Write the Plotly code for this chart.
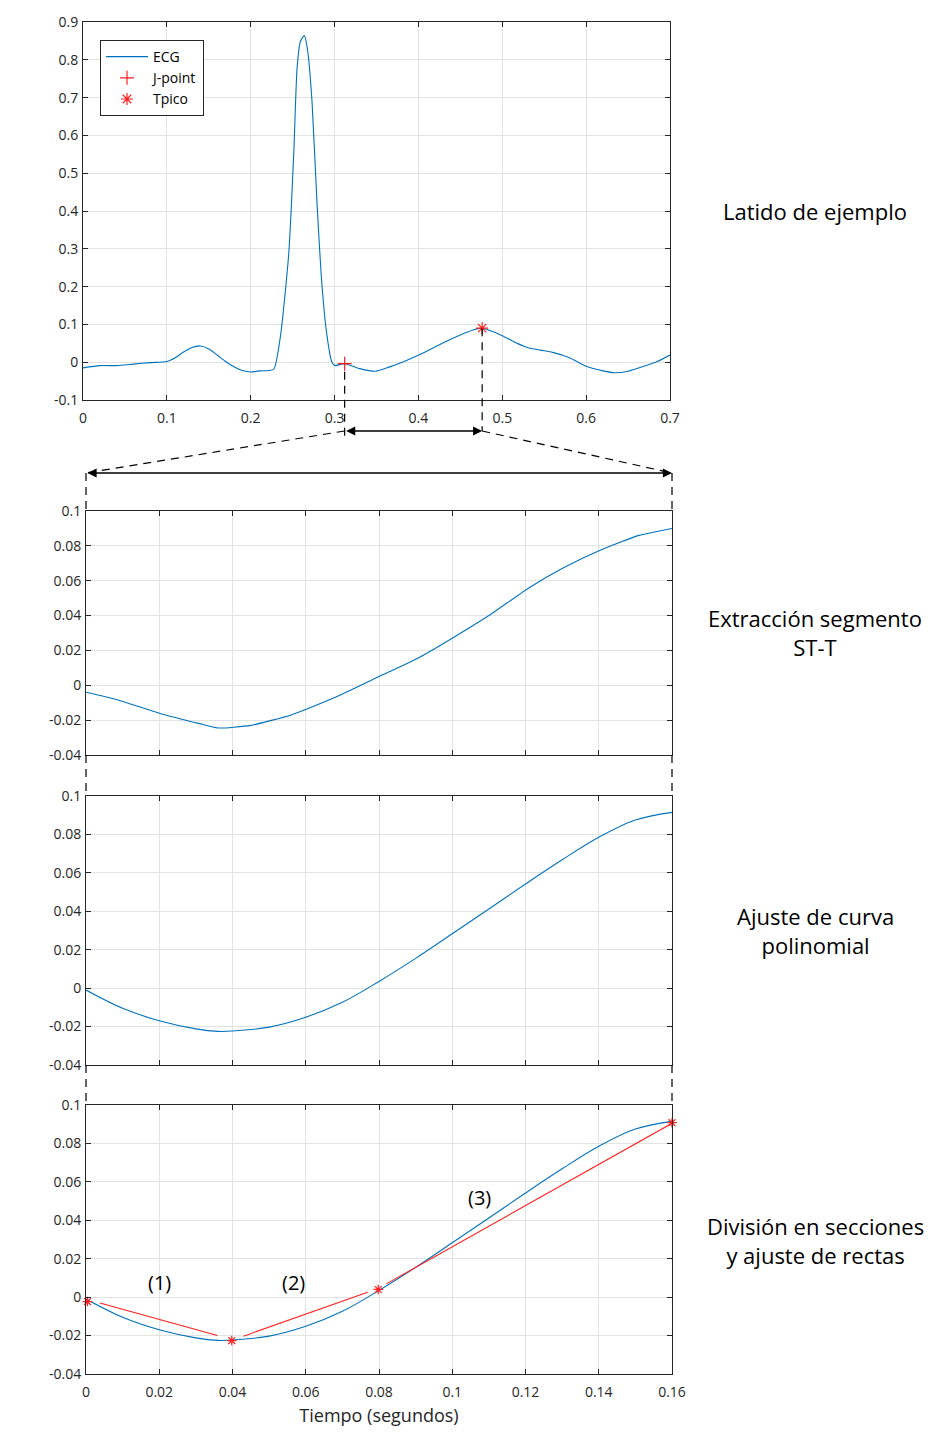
import plotly.graph_objects as go

# ---------------- data ----------------
ecg_t = [0, 0.02, 0.04, 0.06, 0.08, 0.1, 0.11, 0.12, 0.13, 0.14, 0.15, 0.16, 0.17, 0.18,
         0.19, 0.2, 0.21, 0.2217, 0.2277, 0.2356, 0.2455, 0.2514, 0.2553, 0.2593, 0.264,
         0.268, 0.2731, 0.279, 0.285, 0.2909, 0.2968, 0.3008, 0.3047, 0.312, 0.33, 0.349,
         0.365, 0.385, 0.41, 0.431, 0.45, 0.465, 0.476, 0.49, 0.5, 0.515, 0.53, 0.545,
         0.56, 0.58, 0.6, 0.62, 0.634, 0.65, 0.67, 0.685, 0.7]
ecg_v = [-0.015, -0.009, -0.009, -0.005, -0.001, 0.002, 0.012, 0.027, 0.039, 0.043, 0.035,
         0.019, 0.002, -0.012, -0.022, -0.026, -0.023, -0.022, -0.018, 0.071, 0.292, 0.557,
         0.778, 0.849, 0.864, 0.822, 0.69, 0.424, 0.203, 0.071, 0.0, -0.009, -0.007, -0.004,
         -0.017, -0.024, -0.013, 0.004, 0.029, 0.053, 0.072, 0.085, 0.09, 0.08, 0.07, 0.053,
         0.039, 0.032, 0.026, 0.012, -0.011, -0.023, -0.028, -0.024, -0.01, 0.002, 0.019]

jpoint_t, jpoint_v = 0.312, -0.004
tpeak_t, tpeak_v = 0.476, 0.09

st_t = [0, 0.008, 0.02, 0.031, 0.036, 0.045, 0.056, 0.061, 0.069, 0.08, 0.091, 0.1,
        0.11, 0.121, 0.13, 0.141, 0.151, 0.16]
st_v = [-0.004, -0.008, -0.016, -0.022, -0.0245, -0.023, -0.017, -0.013, -0.006, 0.005,
        0.016, 0.027, 0.04, 0.056, 0.067, 0.078, 0.086, 0.09]

poly_t = [0, 0.01, 0.02, 0.03, 0.036, 0.04, 0.05, 0.06, 0.07, 0.08, 0.09, 0.1, 0.11,
          0.12, 0.13, 0.14, 0.15, 0.16]
poly_v = [-0.001, -0.0105, -0.017, -0.0212, -0.0225, -0.0223, -0.0203, -0.0152, -0.0074,
          0.0035, 0.0155, 0.0283, 0.0412, 0.0542, 0.0668, 0.0785, 0.0875, 0.0915]

knots_t = [0.0004, 0.0398, 0.0798, 0.16]
knots_v = [-0.0023, -0.0226, 0.004, 0.0908]

seg_t = [[0.0038, 0.0359], [0.043, 0.0769], [0.082, 0.16]]
seg_v = [[-0.003, -0.020], [-0.0203, 0.0026], [0.0069, 0.0905]]

seg_labels = ["(1)", "(2)", "(3)"]
seg_label_t = [0.02, 0.0566, 0.1075]
seg_label_v = [0.0078, 0.0078, 0.052]

top_xticks = [0, 0.1, 0.2, 0.3, 0.4, 0.5, 0.6, 0.7]
top_xticktext = ["0", "0.1", "0.2", "0.3", "0.4", "0.5", "0.6", "0.7"]
top_yticks = [-0.1, 0, 0.1, 0.2, 0.3, 0.4, 0.5, 0.6, 0.7, 0.8, 0.9]
top_yticktext = ["-0.1", "0", "0.1", "0.2", "0.3", "0.4", "0.5", "0.6", "0.7", "0.8", "0.9"]
zoom_xticks = [0, 0.02, 0.04, 0.06, 0.08, 0.1, 0.12, 0.14, 0.16]
zoom_xticktext = ["0", "0.02", "0.04", "0.06", "0.08", "0.1", "0.12", "0.14", "0.16"]
zoom_yticks = [-0.04, -0.02, 0, 0.02, 0.04, 0.06, 0.08, 0.1]
zoom_yticktext = ["-0.04", "-0.02", "0", "0.02", "0.04", "0.06", "0.08", "0.1"]

panel_titles = ["Latido de ejemplo", "Extracción segmento<br>ST-T",
                "Ajuste de curva<br>polinomial", "División en secciones<br>y ajuste de rectas"]

# ---------------- layout helpers ----------------
# page body has an 8px margin, so the figure is offset by 8px
OFF = 8
W, H = 952 - 2 * OFF, 1435 - 2 * OFF
FONT = "Open Sans"
BLUE = "#0072BD"
RED = "#FF2020"
AX = "#262626"
GRID = "#e3e3e3"


def px(p):
    return (p - OFF) / W


def py(p):
    return 1 - (p - OFF) / H


def xd(l, r):
    return [px(l), px(r)]


def yd(top, bottom):
    return [py(bottom), py(top)]


doms = {
    1: (xd(83, 670), yd(22, 400)),
    2: (xd(86, 672), yd(511, 755)),
    3: (xd(86, 672), yd(796, 1065)),
    4: (xd(86, 672), yd(1105, 1374)),
}

fig = go.Figure()

fig.add_trace(go.Scatter(x=ecg_t, y=ecg_v, mode="lines", name="ECG",
                         line=dict(color=BLUE, width=1.1, shape="spline", smoothing=0.6),
                         xaxis="x", yaxis="y"))
fig.add_trace(go.Scatter(x=[jpoint_t], y=[jpoint_v], mode="markers", name="J-point",
                         marker=dict(symbol="cross-thin-open", size=10, color=RED,
                                     line=dict(color=RED, width=1.2)),
                         xaxis="x", yaxis="y"))
fig.add_trace(go.Scatter(x=[tpeak_t], y=[tpeak_v], mode="markers", name="Tpico",
                         marker=dict(symbol="asterisk-open", size=10, color=RED,
                                     line=dict(color=RED, width=1.2)),
                         xaxis="x", yaxis="y"))

fig.add_trace(go.Scatter(x=st_t, y=st_v, mode="lines", showlegend=False,
                         line=dict(color=BLUE, width=1.1, shape="spline", smoothing=0.5),
                         xaxis="x2", yaxis="y2"))
fig.add_trace(go.Scatter(x=poly_t, y=poly_v, mode="lines", showlegend=False,
                         line=dict(color=BLUE, width=1.1, shape="spline"),
                         xaxis="x3", yaxis="y3"))
fig.add_trace(go.Scatter(x=poly_t, y=poly_v, mode="lines", showlegend=False,
                         line=dict(color=BLUE, width=1.1, shape="spline"),
                         xaxis="x4", yaxis="y4"))
for st, sv in zip(seg_t, seg_v):
    fig.add_trace(go.Scatter(x=st, y=sv, mode="lines", showlegend=False,
                             line=dict(color=RED, width=1.1),
                             xaxis="x4", yaxis="y4"))
fig.add_trace(go.Scatter(x=knots_t, y=knots_v, mode="markers", showlegend=False,
                         marker=dict(symbol="asterisk-open", size=8, color=RED,
                                     line=dict(color=RED, width=1.2)),
                         cliponaxis=False, xaxis="x4", yaxis="y4"))

axis_common = dict(showline=True, linecolor=AX, linewidth=1, mirror="ticks",
                   ticks="inside", ticklen=5, tickcolor=AX, showgrid=True,
                   gridcolor=GRID, gridwidth=1, zeroline=False, automargin=False,
                   tickfont=dict(family=FONT, size=14, color=AX))

layout = dict(width=W, height=H, margin=dict(l=0, r=0, t=0, b=0, autoexpand=False),
              paper_bgcolor="white", plot_bgcolor="white",
              font=dict(family=FONT, color=AX),
              showlegend=True,
              legend=dict(x=px(100), y=py(40), xanchor="left", yanchor="top",
                          bgcolor="white", bordercolor=AX, borderwidth=1,
                          font=dict(family=FONT, size=14, color="black"),
                          tracegroupgap=0, itemwidth=42))

for i in range(1, 5):
    xs = "" if i == 1 else str(i)
    xdom, ydom = doms[i]
    xa = dict(axis_common, domain=xdom, anchor="y" + xs, ticklabelstandoff=5)
    ya = dict(axis_common, domain=ydom, anchor="x" + xs, ticklabelstandoff=1)
    if i == 1:
        xa.update(range=[0, 0.7], tickvals=top_xticks, ticktext=top_xticktext)
        ya.update(range=[-0.1, 0.9], tickvals=top_yticks, ticktext=top_yticktext)
    else:
        xa.update(range=[0, 0.16], tickvals=zoom_xticks,
                  ticktext=zoom_xticktext if i == 4 else [""] * len(zoom_xticks))
        ya.update(range=[-0.04, 0.1], tickvals=zoom_yticks, ticktext=zoom_yticktext)
    if i == 4:
        xa.update(title=dict(text="Tiempo (segundos)",
                             font=dict(family=FONT, size=18, color=AX), standoff=12))
    layout["xaxis" + xs] = xa
    layout["yaxis" + xs] = ya

fig.update_layout(**layout)

# ---------------- connectors ----------------
def top_x_paper(t):
    d = doms[1][0]
    return d[0] + t / 0.7 * (d[1] - d[0])


def top_y_paper(v):
    d = doms[1][1]
    return d[0] + (v + 0.1) / 1.0 * (d[1] - d[0])


def zoom_x_paper(t):
    d = doms[2][0]
    return d[0] + t / 0.16 * (d[1] - d[0])


DASH = dict(color="black", width=1.2, dash="8px,6px")
arrow1_y = py(431)
arrow2_y = py(473)

shapes = []
shapes.append(dict(type="line", xref="paper", yref="paper",
                   x0=top_x_paper(jpoint_t), x1=top_x_paper(jpoint_t),
                   y0=top_y_paper(jpoint_v) - 8 / H, y1=arrow1_y - 6 / H, line=DASH))
shapes.append(dict(type="line", xref="paper", yref="paper",
                   x0=top_x_paper(tpeak_t), x1=top_x_paper(tpeak_t),
                   y0=top_y_paper(tpeak_v), y1=arrow1_y, line=DASH))
shapes.append(dict(type="line", xref="paper", yref="paper",
                   x0=top_x_paper(jpoint_t), x1=zoom_x_paper(0),
                   y0=arrow1_y, y1=arrow2_y, line=DASH))
shapes.append(dict(type="line", xref="paper", yref="paper",
                   x0=top_x_paper(tpeak_t), x1=zoom_x_paper(0.16),
                   y0=arrow1_y, y1=arrow2_y, line=DASH))
for xe in (0, 0.16):
    shapes.append(dict(type="line", xref="paper", yref="paper",
                       x0=zoom_x_paper(xe), x1=zoom_x_paper(xe),
                       y0=arrow2_y, y1=doms[2][1][1], line=DASH))
    shapes.append(dict(type="line", xref="paper", yref="paper",
                       x0=zoom_x_paper(xe), x1=zoom_x_paper(xe),
                       y0=doms[2][1][0], y1=doms[3][1][1], line=DASH))
    shapes.append(dict(type="line", xref="paper", yref="paper",
                       x0=zoom_x_paper(xe), x1=zoom_x_paper(xe),
                       y0=doms[3][1][0], y1=doms[4][1][1], line=DASH))
fig.update_layout(shapes=shapes)

annotations = []
annotations.append(dict(x=tpeak_t, y=arrow1_y, xref="x", yref="paper",
                        ax=jpoint_t, axref="x", ay=0, ayref="pixel",
                        text="", showarrow=True, arrowside="end+start",
                        arrowhead=2, arrowsize=1.3, arrowwidth=1.4,
                        arrowcolor="black", standoff=0, startstandoff=0))
annotations.append(dict(x=0.16, y=arrow2_y, xref="x2", yref="paper",
                        ax=0, axref="x2", ay=0, ayref="pixel",
                        text="", showarrow=True, arrowside="end+start",
                        arrowhead=2, arrowsize=1.3, arrowwidth=1.4,
                        arrowcolor="black", standoff=0, startstandoff=0))

for lab, lt, lv in zip(seg_labels, seg_label_t, seg_label_v):
    annotations.append(dict(x=lt, y=lv, xref="x4", yref="y4", text=lab,
                            showarrow=False,
                            font=dict(family=FONT, size=20, color="black")))

title_y = [py(211), py(633), py(930), py(1240)]
for txt, ty in zip(panel_titles, title_y):
    annotations.append(dict(x=px(815), y=ty, xref="paper", yref="paper", text=txt,
                            showarrow=False, xanchor="center", yanchor="middle",
                            align="center",
                            font=dict(family=FONT, size=22, color="black")))

fig.update_layout(annotations=annotations)

fig.write_html("out.html")
